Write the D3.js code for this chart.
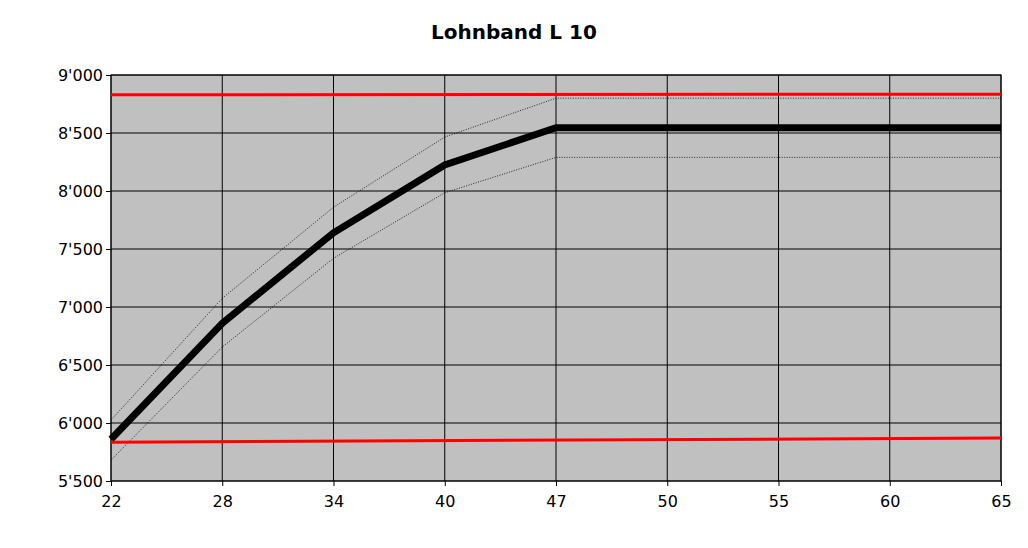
<!DOCTYPE html><html><head><meta charset="utf-8"><script src="https://cdn.jsdelivr.net/npm/d3@7"></script>
<style>body{margin:0;background:#fff}text{font-family:"DejaVu Sans",sans-serif}</style></head><body><svg width="1028" height="548"></svg>
<script>
const categories=["22","28","34","40","47","50","55","60","65"];
const mainVals=[5860,6860,7640,8225,8545,8545,8545,8545,8545];
const upperVals=[6025,7075,7860,8465,8800,8800,8800,8800,8800];
const lowerVals=[5680,6655,7420,7985,8290,8290,8290,8290,8290];
const redTop=[8830,8835];
const redBottom=[5835,5870];
const yTicks=[5500,6000,6500,7000,7500,8000,8500,9000];
const svg=d3.select("svg");
const L=111,R=1001,T=75,B=481;
const x=d3.scalePoint().domain(categories).range([L,R]);
const y=d3.scaleLinear().domain([5500,9000]).range([B,T]);
svg.append("rect").attr("x",L).attr("y",T).attr("width",R-L).attr("height",B-T).attr("fill","#c0c0c0");
categories.forEach(c=>svg.append("line").attr("x1",x(c)).attr("x2",x(c)).attr("y1",T).attr("y2",B).attr("stroke","#000").attr("stroke-width",1));
yTicks.forEach(t=>svg.append("line").attr("x1",L).attr("x2",R).attr("y1",y(t)).attr("y2",y(t)).attr("stroke","#000").attr("stroke-width",1));
svg.append("rect").attr("x",L).attr("y",T).attr("width",R-L).attr("height",B-T).attr("fill","none").attr("stroke","#000");
const fmt=v=>d3.format(",")(v).replace(/,/g,"'");
const ya=svg.append("g").attr("transform",`translate(${L},0)`).call(d3.axisLeft(y).tickValues(yTicks).tickFormat(fmt).tickSize(5));
const xa=svg.append("g").attr("transform",`translate(0,${B})`).call(d3.axisBottom(x).tickSize(5));
[ya,xa].forEach(a=>{a.select(".domain").remove();a.selectAll("text").attr("font-size",16).attr("fill","#000").attr("font-family","DejaVu Sans");});
xa.selectAll("text").attr("dy","1.1em");
const line=d3.line().x((d,i)=>x(categories[i])).y(d=>y(d));
[upperVals,lowerVals].forEach(v=>svg.append("path").attr("d",line(v)).attr("fill","none").attr("stroke","#000").attr("stroke-width",0.8).attr("stroke-dasharray","1,1.5"));
svg.append("path").attr("d",line(mainVals)).attr("fill","none").attr("stroke","#000").attr("stroke-width",7);
const rl=d3.line().x((d,i)=>i?x("65"):x("22")).y(d=>y(d));
[redTop,redBottom].forEach(v=>svg.append("path").attr("d",rl(v)).attr("stroke","#ff0000").attr("stroke-width",3).attr("fill","none"));
svg.append("text").attr("x",514).attr("y",39).attr("text-anchor","middle").attr("font-size",20).attr("font-weight","bold").text("Lohnband L 10");
</script></body></html>
